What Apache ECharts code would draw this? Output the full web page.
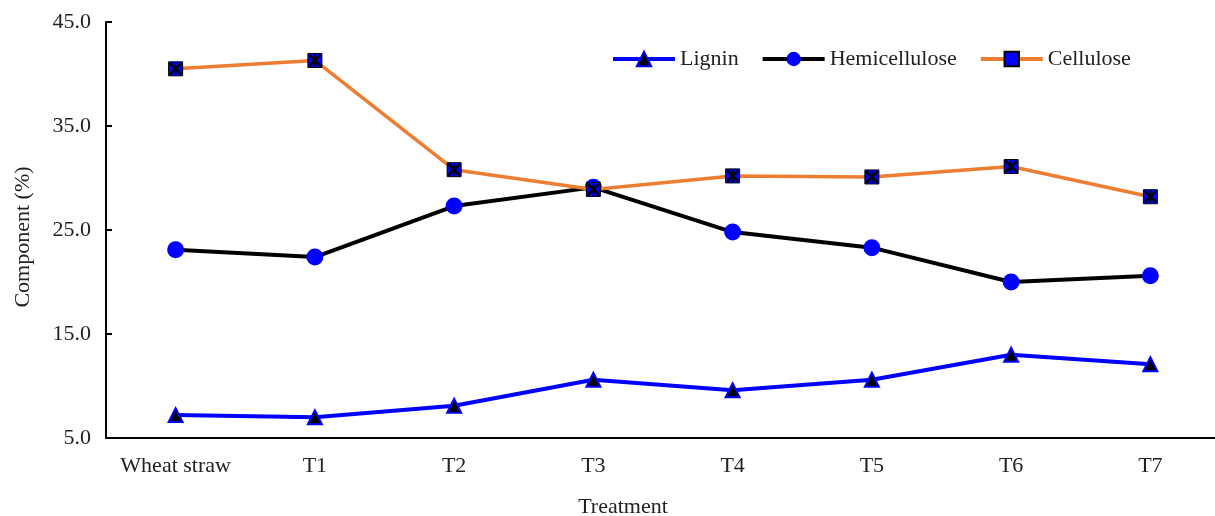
<!DOCTYPE html>
<html>
<head>
<meta charset="utf-8">
<script src="https://cdn.jsdelivr.net/npm/echarts@6/dist/echarts.min.js"></script>
<style>
html,body{margin:0;padding:0;background:#fff;}
#chart{width:1215px;height:516px;}
</style>
</head>
<body>
<div id="chart"></div>
<script>
const categories = ['Wheat straw', 'T1', 'T2', 'T3', 'T4', 'T5', 'T6', 'T7'];
const lignin = [7.2, 7.0, 8.1, 10.6, 9.6, 10.6, 13.0, 12.1];
const hemicellulose = [23.1, 22.4, 27.3, 29.1, 24.8, 23.3, 20.0, 20.6];
const cellulose = [40.5, 41.3, 30.8, 28.9, 30.2, 30.1, 31.1, 28.2];
const yTicks = [5, 15, 25, 35, 45];

const FONT = 'Liberation Serif';
const TXT = '#222';
const chart = echarts.init(document.getElementById('chart'));
const xShape = 'path://M0,0 L3,0 L10,7 L17,0 L20,0 L20,3 L13,10 L20,17 L20,20 L17,20 L10,13 L3,20 L0,20 L0,17 L7,10 L0,3 Z M8.8,0 L11.2,0 L11.2,20 L8.8,20 Z';

chart.setOption({
  animation: false,
  backgroundColor: '#fff',
  grid: { left: 106, right: -5, top: 22, bottom: 78, containLabel: false, outerBoundsMode: 'none' },
  legend: {
    data: [
      { name: 'Lignin', lineStyle: { width: 4 } },
      { name: 'Hemicellulose', lineStyle: { width: 4 } },
      { name: 'Cellulose', lineStyle: { width: 4 } }
    ],
    left: 606, top: 43,
    itemWidth: 62, itemHeight: 18, itemGap: 22,
    textStyle: { fontFamily: FONT, fontSize: 22, color: TXT }
  },
  xAxis: {
    type: 'category',
    data: categories,
    boundaryGap: true,
    name: 'Treatment',
    nameLocation: 'middle',
    nameGap: 58,
    nameTextStyle: { fontFamily: FONT, fontSize: 22, color: TXT, padding: [0, 80, 0, 0] },
    axisLine: { lineStyle: { color: '#000', width: 2 } },
    axisTick: { alignWithLabel: true, interval: 0, inside: true, length: 6, lineStyle: { color: '#000', width: 2 } },
    axisLabel: { interval: 0, fontFamily: FONT, fontSize: 22, color: TXT, margin: 17 },
    splitLine: { show: false }
  },
  yAxis: {
    type: 'value',
    min: yTicks[0], max: yTicks[yTicks.length - 1], interval: 10,
    name: 'Component (%)',
    nameLocation: 'middle',
    nameGap: 72,
    nameTextStyle: { fontFamily: FONT, fontSize: 22, color: TXT, padding: [0, 14, 0, 0] },
    axisLine: { show: true, lineStyle: { color: '#000', width: 2 } },
    axisTick: { show: true, inside: true, length: 6, lineStyle: { color: '#000', width: 2 } },
    axisLabel: { fontFamily: FONT, fontSize: 22, color: TXT, margin: 15, formatter: v => v.toFixed(1) },
    splitLine: { show: false }
  },
  series: [
    {
      name: 'Lignin', type: 'line', data: lignin,
      symbol: 'triangle', symbolSize: 14,
      lineStyle: { color: '#0000ff', width: 4 },
      itemStyle: { color: '#000', borderColor: '#0000ff', borderWidth: 2 },
      z: 3
    },
    {
      name: 'Hemicellulose', type: 'line', data: hemicellulose,
      symbol: 'circle', symbolSize: 17,
      lineStyle: { color: '#000', width: 4 },
      itemStyle: { color: '#0000ff', borderWidth: 0 },
      z: 4
    },
    {
      name: 'Cellulose', type: 'line', data: cellulose,
      symbol: 'rect', symbolSize: 14,
      lineStyle: { color: '#ED7D31', width: 3.5 },
      itemStyle: { color: '#0000ff', borderColor: '#000', borderWidth: 1 },
      z: 5
    },
    {
      name: 'CelluloseMark', type: 'line', data: cellulose,
      symbol: xShape, symbolSize: 12, showSymbol: true,
      lineStyle: { width: 0, opacity: 0 },
      itemStyle: { color: '#000' },
      silent: true, z: 6
    }
  ]
});
</script>
</body>
</html>
